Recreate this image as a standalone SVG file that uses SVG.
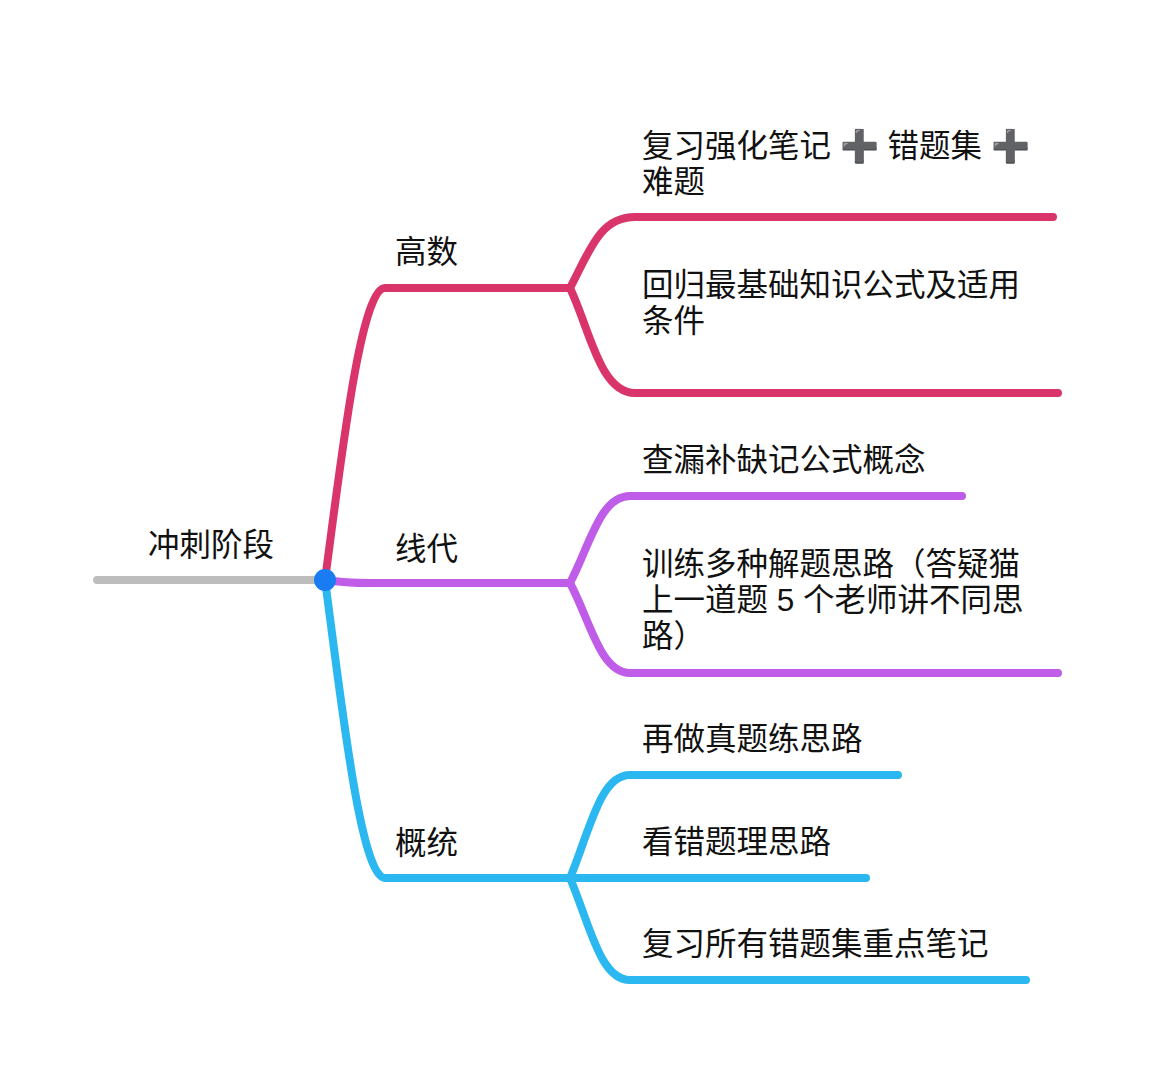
<svg xmlns="http://www.w3.org/2000/svg" width="1157" height="1080" viewBox="0 0 1157 1080">
<style>
.t{font-family:"Liberation Sans","Noto Sans CJK SC",sans-serif;font-size:31.5px;fill:#111}
.l{fill:none;stroke-width:8;stroke-linecap:round}
.p{stroke:#d9356a}.v{stroke:#bf5ce8}.b{stroke:#2bb7f0}
</style>
<rect width="1157" height="1080" fill="#fff"/>
<g id="connectors">
<path class="l" d="M97 580 H325" stroke="#bdbdbd"/>
<path class="l p" d="M325 580 C340 470 360 288 385 288 H570 C590 250 600 217 635 217 H1053"/>
<path class="l p" d="M570 288 C590 330 600 393 635 393 H1058"/>
<path class="l v" d="M325 580 C350 584 365 583 385 583 H570 C590 545 600 496 630 496 H962"/>
<path class="l v" d="M570 583 C590 620 600 673 630 673 H1058"/>
<path class="l b" d="M325 580 C340 690 360 878 385 878 H570 C590 830 600 775 630 775 H898"/>
<path class="l b" d="M570 878 H866"/>
<path class="l b" d="M570 878 C590 925 600 980 630 980 H1026"/>
</g>
<g id="root"><circle cx="325" cy="580" r="11" fill="#1a7cf2"/><text class="t" x="148" y="556">冲刺阶段</text></g>
<g id="n1"><text class="t" x="395" y="263">高数</text></g>
<g id="n2"><text class="t" x="395" y="560">线代</text></g>
<g id="n3"><text class="t" x="395" y="854">概统</text></g>
<g id="n1a"><text class="t" x="642" y="157">复习强化笔记 ➕ 错题集 ➕</text><text class="t" x="642" y="193">难题</text></g>
<g id="n1b"><text class="t" x="642" y="296">回归最基础知识公式及适用</text><text class="t" x="642" y="332">条件</text></g>
<g id="n2a"><text class="t" x="642" y="471">查漏补缺记公式概念</text></g>
<g id="n2b"><text class="t" x="642" y="575">训练多种解题思路（答疑猫</text><text class="t" x="642" y="611">上一道题 5 个老师讲不同思</text><text class="t" x="642" y="647">路）</text></g>
<g id="n3a"><text class="t" x="642" y="750">再做真题练思路</text></g>
<g id="n3b"><text class="t" x="642" y="853">看错题理思路</text></g>
<g id="n3c"><text class="t" x="642" y="955">复习所有错题集重点笔记</text></g>
</svg>
